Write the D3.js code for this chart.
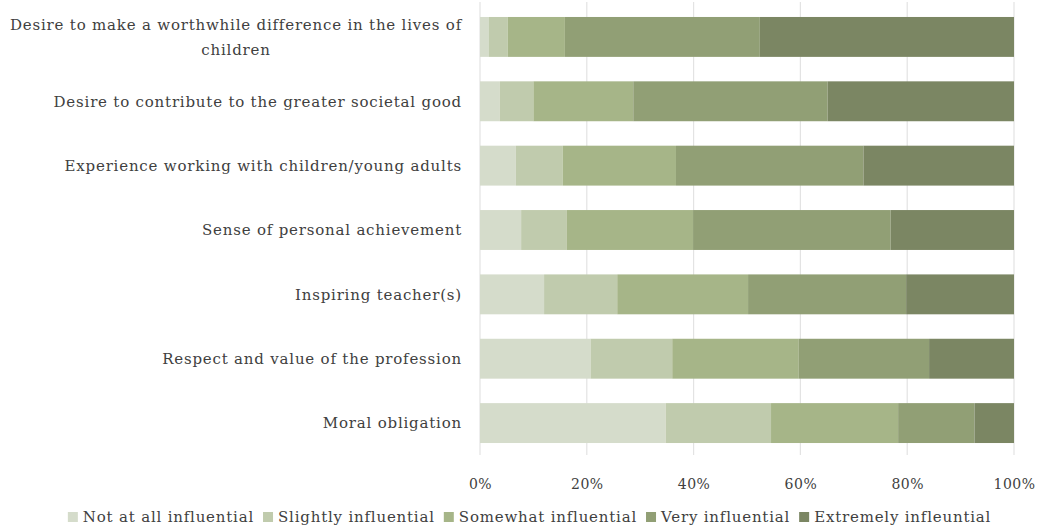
<!DOCTYPE html>
<html>
<head>
<meta charset="utf-8">
<script src="https://cdn.jsdelivr.net/npm/d3@7"></script>
<style>
  html, body { margin: 0; padding: 0; background: #ffffff; }
  svg { display: block; }
  text { font-family: "DejaVu Serif", "Liberation Serif", serif; fill: #404040; }
</style>
</head>
<body>
<svg id="chart" width="1039" height="527"></svg>
<script>
const categories = [
  "Desire to make a worthwhile difference in the lives of children",
  "Desire to contribute to the greater societal good",
  "Experience working with children/young adults",
  "Sense of personal achievement",
  "Inspiring teacher(s)",
  "Respect and value of the profession",
  "Moral obligation"
];
const seriesNames = [
  "Not at all influential",
  "Slightly influential",
  "Somewhat influential",
  "Very influential",
  "Extremely infleuntial"
];
const notAtAll   = [1.6, 3.7, 6.7, 7.7, 12.0, 20.7, 34.8];
const slightly   = [3.6, 6.3, 8.8, 8.5, 13.7, 15.3, 19.7];
const somewhat   = [10.7, 18.7, 21.2, 23.7, 24.5, 23.7, 23.8];
const very       = [36.5, 36.4, 35.1, 37.0, 29.6, 24.4, 14.3];
const extremely  = [47.6, 34.9, 28.2, 23.1, 20.2, 15.9, 7.4];
const tickValues = [0, 0.2, 0.4, 0.6, 0.8, 1.0];
const colors = ["#d5dccb", "#c0cbad", "#a6b588", "#919f75", "#7b8663"];

const seriesValues = [notAtAll, slightly, somewhat, very, extremely];
const rows = categories.map((c, i) => {
  const r = { category: c };
  seriesNames.forEach((s, j) => { r[s] = seriesValues[j][i]; });
  return r;
});
rows.forEach(r => {
  const t = d3.sum(seriesNames, s => r[s]);
  seriesNames.forEach(s => { r[s] = r[s] / t; });
});

const svg = d3.select("#chart");
const x = d3.scaleLinear().domain([0, 1]).range([480, 1014]);
const y = d3.scaleBand().domain(categories).range([4.75, 455.25]).paddingInner(0.38).paddingOuter(0.19);

svg.append("g").selectAll("line").data(tickValues).join("line")
  .attr("x1", d => x(d)).attr("x2", d => x(d))
  .attr("y1", 2).attr("y2", 455)
  .attr("stroke", "#e3e3e3").attr("stroke-width", 1.2);

const stack = d3.stack().keys(seriesNames)(rows);
const color = d3.scaleOrdinal().domain(seriesNames).range(colors);

svg.append("g").selectAll("g").data(stack).join("g")
  .attr("fill", d => color(d.key))
  .selectAll("rect").data(d => d).join("rect")
  .attr("x", d => x(d[0]))
  .attr("width", d => x(d[1]) - x(d[0]))
  .attr("y", d => y(d.data.category))
  .attr("height", y.bandwidth());

const xAxis = d3.axisBottom(x).tickValues(tickValues).tickFormat(d3.format(".0%")).tickSize(0).tickPadding(0);
const gx = svg.append("g").attr("transform", "translate(0,479)").call(xAxis);
gx.select(".domain").remove();
gx.selectAll("text").attr("font-size", 14).attr("fill", "#404040")
  .attr("letter-spacing", 0.5)
  .style("font-family", '"DejaVu Serif", serif');

const labelX = 462;
const wrapW = 460;
const fs = 15;
const ls = 0.8;
const gy = svg.append("g");
categories.forEach(c => {
  const cy = y(c) + y.bandwidth() / 2;
  const words = c.split(" ");
  const tmp = gy.append("text").attr("font-size", fs).attr("letter-spacing", ls);
  let lines = [], line = [];
  words.forEach(w => {
    line.push(w);
    tmp.text(line.join(" "));
    if (tmp.node().getComputedTextLength() > wrapW && line.length > 1) {
      line.pop();
      lines.push(line.join(" "));
      line = [w];
    }
  });
  lines.push(line.join(" "));
  tmp.remove();
  if (lines.length === 1) {
    gy.append("text").attr("x", labelX).attr("y", cy).attr("dy", "0.35em")
      .attr("text-anchor", "end").attr("font-size", fs).attr("letter-spacing", ls).text(lines[0]);
  } else {
    const first = gy.append("text").attr("x", labelX).attr("y", cy - 12).attr("dy", "0.35em")
      .attr("text-anchor", "end").attr("font-size", fs).attr("letter-spacing", ls).text(lines[0]);
    const w = first.node().getComputedTextLength();
    lines.slice(1).forEach((l, k) => {
      gy.append("text").attr("x", labelX - w / 2).attr("y", cy + 13 + k * 25).attr("dy", "0.35em")
        .attr("text-anchor", "middle").attr("font-size", fs).attr("letter-spacing", ls).text(l);
    });
  }
});

const lg = svg.append("g");
const legFs = 15, sq = 10, gapAfterSq = 5, gapItems = 9;
const items = seriesNames.map(s => {
  const g = lg.append("g");
  g.append("rect").attr("width", sq).attr("height", sq).attr("y", -sq / 2).attr("fill", color(s));
  const t = g.append("text").attr("x", sq + gapAfterSq).attr("dy", "0.35em")
    .attr("font-size", legFs).attr("letter-spacing", ls).text(s);
  return { g, w: sq + gapAfterSq + t.node().getComputedTextLength() };
});
const total = d3.sum(items, d => d.w) + gapItems * (items.length - 1);
let cx = 529.5 - total / 2;
items.forEach(it => {
  it.g.attr("transform", `translate(${cx},517)`);
  cx += it.w + gapItems;
});
</script>
</body>
</html>
